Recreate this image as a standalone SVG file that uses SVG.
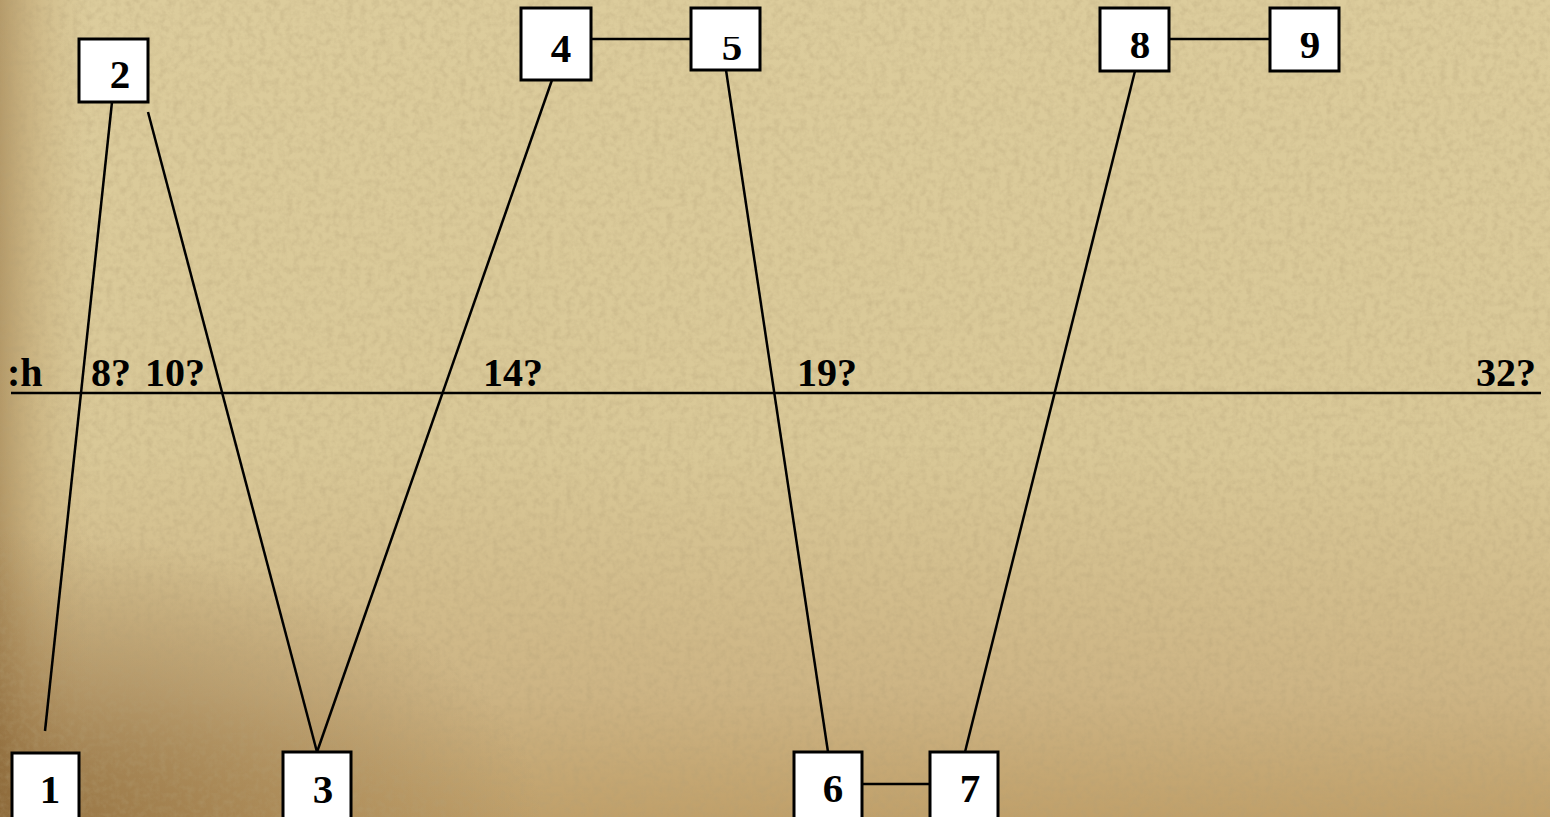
<svg xmlns="http://www.w3.org/2000/svg" width="1550" height="817" viewBox="0 0 1550 817">
<defs>
<style>
.box{fill:#ffffff;stroke:#000000;stroke-width:3}
.num{font-family:"Liberation Serif","Times New Roman",serif;font-weight:bold;font-size:41px;fill:#000000;text-anchor:middle}
.lab{font-family:"Liberation Serif","Times New Roman",serif;font-weight:bold;font-size:40px;fill:#000000}
.edge{stroke:#000000;stroke-width:2.5;fill:none}
</style>
<linearGradient id="bgv" x1="0" y1="0" x2="0" y2="1">
<stop offset="0" stop-color="#dccc9c"/>
<stop offset="0.55" stop-color="#d9c897"/>
<stop offset="0.85" stop-color="#cdb484"/>
<stop offset="1" stop-color="#c0a06a"/>
</linearGradient>
<linearGradient id="bgl" x1="0" y1="0" x2="1" y2="0">
<stop offset="0" stop-color="#8f6a38" stop-opacity="0.5"/>
<stop offset="0.025" stop-color="#a98550" stop-opacity="0.25"/>
<stop offset="0.06" stop-color="#c8ad78" stop-opacity="0"/>
<stop offset="1" stop-color="#c8ad78" stop-opacity="0"/>
</linearGradient>
<radialGradient id="bgc" cx="0" cy="1" r="0.35">
<stop offset="0" stop-color="#7a5528" stop-opacity="0.6"/>
<stop offset="1" stop-color="#7a5528" stop-opacity="0"/>
</radialGradient>
<filter id="noise" x="0" y="0" width="100%" height="100%">
<feTurbulence type="fractalNoise" baseFrequency="0.15" numOctaves="3" seed="4" result="t"/>
<feColorMatrix type="matrix" values="0 0 0 0 0.45  0 0 0 0 0.35  0 0 0 0 0.18  0 0 0 1.3 -0.5" in="t"/>
</filter>
<clipPath id="c5"><rect x="700" y="37" width="55" height="25"/></clipPath>
<clipPath id="c8"><rect x="1100" y="33" width="69" height="30"/></clipPath>
<clipPath id="c9"><rect x="1270" y="33" width="69" height="30"/></clipPath>
</defs>
<g id="background">
<rect width="1550" height="817" fill="url(#bgv)"/>
<rect width="1550" height="817" fill="url(#bgl)"/>
<rect width="1550" height="817" fill="url(#bgc)"/>
<rect width="1550" height="817" filter="url(#noise)" opacity="0.5"/>
</g>
<g id="axis">
<line x1="11" y1="393" x2="1541" y2="393" stroke="#000" stroke-width="2.5"/>
<text class="lab" x="7" y="386">:h</text>
<text class="lab" x="91" y="386">8?</text>
<text class="lab" x="145" y="386">10?</text>
<text class="lab" x="483" y="386">14?</text>
<text class="lab" x="797" y="386">19?</text>
<text class="lab" x="1476" y="386">32?</text>
</g>
<g id="connectors">
<line class="edge" x1="112" y1="102" x2="45" y2="731"/>
<line class="edge" x1="148" y1="112" x2="317" y2="752"/>
<line class="edge" x1="552" y1="80" x2="317" y2="752"/>
<line class="edge" x1="726" y1="70" x2="828" y2="752"/>
<line class="edge" x1="1135" y1="71" x2="965" y2="752"/>
<line class="edge" x1="591" y1="39" x2="691" y2="39"/>
<line class="edge" x1="1169" y1="39" x2="1270" y2="39"/>
<line class="edge" x1="862" y1="784" x2="930" y2="784"/>
</g>
<g id="node1">
<rect class="box" x="12" y="753" width="67" height="70"/>
<text class="num" x="50" y="803">1</text>
</g>
<g id="node2">
<rect class="box" x="79" y="39" width="69" height="63"/>
<text class="num" x="120" y="88">2</text>
</g>
<g id="node3">
<rect class="box" x="283" y="752" width="68" height="70"/>
<text class="num" x="323" y="803">3</text>
</g>
<g id="node4">
<rect class="box" x="521" y="8" width="70" height="72"/>
<text class="num" x="561" y="62">4</text>
</g>
<g id="node5">
<rect class="box" x="691" y="8" width="69" height="62"/>
<text class="num" x="732" y="60" clip-path="url(#c5)">5</text>
</g>
<g id="node6">
<rect class="box" x="794" y="752" width="68" height="70"/>
<text class="num" x="833" y="802">6</text>
</g>
<g id="node7">
<rect class="box" x="930" y="752" width="68" height="70"/>
<text class="num" x="970" y="802">7</text>
</g>
<g id="node8">
<rect class="box" x="1100" y="8" width="69" height="63"/>
<text class="num" x="1140" y="58" clip-path="url(#c8)">8</text>
</g>
<g id="node9">
<rect class="box" x="1270" y="8" width="69" height="63"/>
<text class="num" x="1310" y="58" clip-path="url(#c9)">9</text>
</g>
</svg>
